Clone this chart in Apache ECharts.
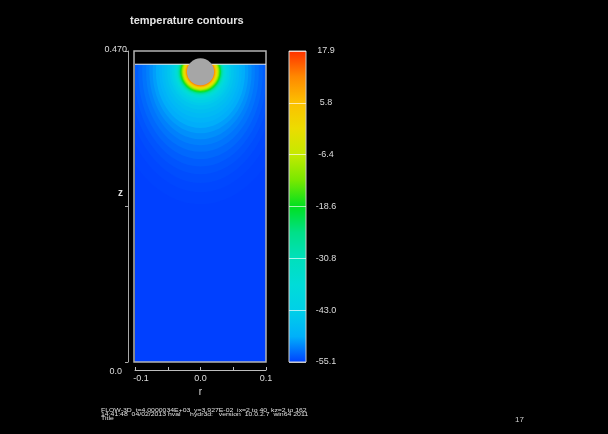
<!DOCTYPE html>
<html>
<head>
<meta charset="utf-8">
<script src="https://cdn.jsdelivr.net/npm/echarts@6/dist/echarts.min.js"></script>
<style>
  html, body { margin: 0; padding: 0; background: #000; }
  #chart { width: 608px; height: 434px; }
</style>
</head>
<body>
<div id="chart"></div>
<script>
var rRange = [-0.1, 0.1];
var zRange = [0, 0.47];
var surfaceZ = 0.45;
var xTickLabels = ['-0.1', '0.0', '0.1'];
var zTickLabels = ['0.0', '0.470'];
var barLabels = ['-55.1', '-43.0', '-30.8', '-18.6', '-6.4', '5.8', '17.9'];
var barColors = ['#0040ff', '#00b0fa', '#00d0e8', '#00dcd8', '#00e0bc', '#00e088', '#00e020',
  '#78e800', '#c4ea00', '#ecdc00', '#fcc000', '#ff8800', '#ff3000'];

// sphere: r, z, radius
var sphere = [0, 0.4386, 0.0207];

// temperature bands around the sphere, outer to inner (half width in r, depth below centre)
var bandTemp = [-55.1, -54.95, -54.7, -54.4, -54.0, -53.5, -52.95, -52.3, -51.6, -50.8, -50.0, -49.1,
  -48.2, -47.2, -46.1, -45.0, -43.8, -42.3, -40.5, -38.0, -35.5, -32.0, -28.5, -25.0, -21.0, -17.0,
  -13.0, -9.0, -5.0, -1.0, 3.0, 7.0, 11.0];
var bandHalfWidth = [0.30, 0.140, 0.125, 0.115, 0.108, 0.101, 0.095, 0.089, 0.083, 0.078, 0.073, 0.068,
  0.063, 0.059, 0.055, 0.051, 0.047, 0.044, 0.041, 0.039, 0.0370, 0.0353, 0.0339, 0.0326, 0.0314, 0.0302,
  0.0290, 0.0278, 0.0266, 0.0254, 0.0242, 0.0230, 0.0218];
var bandDepth = [0.50, 0.200, 0.182, 0.168, 0.155, 0.143, 0.132, 0.121, 0.111, 0.102, 0.093, 0.085,
  0.077, 0.070, 0.063, 0.057, 0.051, 0.047, 0.043, 0.040, 0.0380, 0.0358, 0.0342, 0.0329, 0.0316, 0.0303,
  0.0290, 0.0278, 0.0266, 0.0254, 0.0242, 0.0230, 0.0218];

var footerLines = [
  'FLOW-3D  t=4.0000034E+03  y=3.927E-02  ix=2 to 40  kz=2 to 162',
  '14:41:48  04/02/2013 hval     hydr3d:   version  10.0.2.7  win64 2011',
  'Title'
];

var font = '"Liberation Sans", Arial, sans-serif';
var textColor = '#dddddd';

var chart = echarts.init(document.getElementById('chart'));

var tempMin = parseFloat(barLabels[0]),
  tempMax = parseFloat(barLabels[barLabels.length - 1]);

var bands = bandTemp.map(function(t, i) {
  return [t, bandHalfWidth[i], bandDepth[i]];
});

function findLabel(list, v) {
  for (var i = 0; i < list.length; i++) {
    if (Math.abs(parseFloat(list[i]) - v) < 1e-6) return list[i];
  }
  return '';
}

function renderBand(params, api) {
  var cs = params.coordSys;
  var c = api.coord([sphere[0], sphere[1]]);
  var s = api.size([api.value(1), api.value(2)]);
  var top = api.coord([0, surfaceZ])[1];
  return {
    type: 'ellipse',
    shape: { cx: c[0], cy: c[1], rx: s[0], ry: s[1] },
    style: { fill: api.visual('color') },
    clipPath: {
      type: 'rect',
      shape: { x: cs.x, y: top, width: cs.width, height: cs.y + cs.height - top }
    }
  };
}

function renderBox(params, api) {
  var p1 = api.coord([api.value(0), api.value(1)]);
  var p2 = api.coord([api.value(2), api.value(3)]);
  var ys = api.coord([0, surfaceZ])[1];
  return {
    type: 'group',
    children: [
      {
        type: 'rect',
        shape: { x: p1[0] - 1, y: p1[1], width: p2[0] - p1[0] + 1, height: p2[1] - p1[1] },
        style: { fill: null, stroke: '#b4b4b4', lineWidth: 1.5 }
      },
      {
        type: 'line',
        shape: { x1: p1[0], y1: ys, x2: p2[0], y2: ys },
        style: { stroke: '#e8e8e8', lineWidth: 1 }
      }
    ]
  };
}

function renderSphere(params, api) {
  var c = api.coord([api.value(0), api.value(1)]);
  var r = api.size([api.value(2), 0])[0];
  return {
    type: 'circle',
    shape: { cx: c[0], cy: c[1], r: r },
    style: { fill: '#a6a6a6' }
  };
}

function renderBar(params, api) {
  var cs = params.coordSys;
  var stops = barColors.map(function(c, i) {
    return { offset: i / (barColors.length - 1), color: c };
  });
  return {
    type: 'rect',
    shape: { x: cs.x, y: cs.y, width: cs.width, height: cs.height },
    style: {
      fill: new echarts.graphic.LinearGradient(0, 1, 0, 0, stops),
      stroke: '#d0d0d0',
      lineWidth: 1
    }
  };
}

var graphics = [
  {
    type: 'text',
    x: 130,
    y: 21,
    style: {
      text: 'temperature contours',
      fontSize: 11,
      fontWeight: 'bold',
      fontFamily: font,
      fill: '#e4e4e4',
      verticalAlign: 'middle'
    }
  },
  {
    type: 'text',
    x: 515,
    y: 420,
    style: { text: '17', fontSize: 8, fontFamily: font, fill: '#d0d0d0', verticalAlign: 'middle' }
  }
];
footerLines.forEach(function(line, i) {
  graphics.push({
    type: 'text',
    x: 101,
    y: 410.5 + i * 4,
    scaleX: 1.25,
    style: { text: line, fontSize: 5.5, fontFamily: font, fill: '#e0e0e0', verticalAlign: 'middle' }
  });
});

var option = {
  backgroundColor: '#000',
  animation: false,
  textStyle: { fontFamily: font },
  graphic: graphics,
  grid: [
    { left: 135, top: 51, width: 131, height: 311, show: false },
    { left: 289, top: 51, width: 17, height: 311, show: false }
  ],
  visualMap: {
    type: 'continuous',
    show: false,
    seriesIndex: 0,
    dimension: 0,
    min: tempMin,
    max: tempMax,
    inRange: { color: barColors }
  },
  xAxis: [
    {
      gridIndex: 0,
      type: 'value',
      min: rRange[0],
      max: rRange[1],
      interval: 0.05,
      offset: 8,
      name: 'r',
      nameLocation: 'middle',
      nameGap: 17,
      nameMoveOverlap: false,
      nameTextStyle: { color: textColor, fontSize: 10 },
      axisLine: { onZero: false, lineStyle: { color: '#bdbdbd' } },
      axisTick: { inside: true, length: 3, lineStyle: { color: '#bdbdbd' } },
      splitLine: { show: false },
      axisLabel: {
        color: textColor,
        fontSize: 9,
        margin: 4,
        formatter: function(v) {
          var s = findLabel(xTickLabels, v);
          if (s.charAt(0) === '-') return '{neg|' + s + '}';
          return s;
        },
        rich: { neg: { fontSize: 9, color: textColor, padding: [0, 0, 0, 12] } }
      }
    },
    { gridIndex: 1, type: 'value', min: 0, max: 1, show: false }
  ],
  yAxis: [
    {
      gridIndex: 0,
      type: 'value',
      min: zRange[0],
      max: zRange[1],
      interval: 0.235,
      offset: 7,
      name: 'z',
      nameLocation: 'middle',
      nameRotate: 0,
      nameGap: 5,
      nameMoveOverlap: false,
      nameTextStyle: {
        color: textColor,
        fontSize: 10,
        fontWeight: 'bold',
        verticalAlign: 'bottom',
        lineHeight: 26
      },
      axisLine: { show: true, onZero: false, lineStyle: { color: '#a8a8a8' } },
      axisTick: { show: true, length: 3, lineStyle: { color: '#a8a8a8' } },
      splitLine: { show: false },
      axisLabel: {
        color: textColor,
        fontSize: 9,
        margin: 1,
        formatter: function(v) {
          if (Math.abs(v - zRange[1]) < 1e-6) return '{hi|' + zTickLabels[1] + '}';
          if (Math.abs(v - zRange[0]) < 1e-6) return '{lo|' + zTickLabels[0] + '}';
          return '';
        },
        rich: {
          hi: { fontSize: 9, color: textColor, padding: [0, 0, 2, 0] },
          lo: { fontSize: 9, color: textColor, padding: [19, 5, 0, 0] }
        }
      }
    },
    {
      gridIndex: 1,
      type: 'category',
      data: barLabels,
      boundaryGap: false,
      position: 'right',
      z: 5,
      axisLine: { show: false },
      axisTick: { show: false },
      splitLine: { show: true, lineStyle: { color: 'rgba(255,255,255,0.65)', width: 1 } },
      axisLabel: {
        color: textColor,
        fontSize: 9,
        align: 'center',
        margin: 20,
        padding: [0, 0, 4, 0]
      }
    }
  ],
  series: [
    {
      type: 'custom',
      xAxisIndex: 0,
      yAxisIndex: 0,
      silent: true,
      renderItem: renderBand,
      data: bands
    },
    {
      type: 'custom',
      xAxisIndex: 0,
      yAxisIndex: 0,
      silent: true,
      z: 4,
      renderItem: renderBox,
      data: [[rRange[0], zRange[1], rRange[1], zRange[0]]]
    },
    {
      type: 'custom',
      xAxisIndex: 0,
      yAxisIndex: 0,
      silent: true,
      z: 6,
      renderItem: renderSphere,
      data: [sphere]
    },
    {
      type: 'custom',
      xAxisIndex: 1,
      yAxisIndex: 1,
      silent: true,
      z: 2,
      renderItem: renderBar,
      data: [[0, 0]]
    }
  ]
};

chart.setOption(option);
</script>
</body>
</html>
